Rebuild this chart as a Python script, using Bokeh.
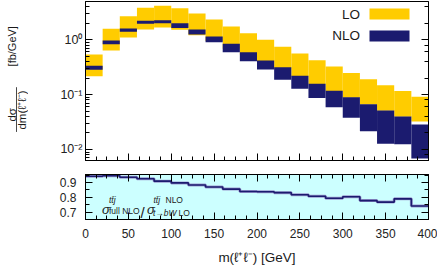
import numpy as np
from bokeh.plotting import figure
from bokeh.layouts import column, row
from bokeh.models import (Range1d, Label, BoxAnnotation, LinearAxis, LogAxis,
                          SingleIntervalTicker, LogTicker, Arrow,
                          CustomJSTickFormatter)
from bokeh.embed import file_html
from bokeh.resources import INLINE

# ---------------- data ----------------
bin_edges = [0, 20, 40, 60, 80, 100, 120, 140, 160, 180, 200,
             220, 240, 260, 280, 300, 320, 340, 360, 380, 400]
lo_upper = [0.54, 1.59, 2.69, 3.83, 4.17, 3.77, 3.02, 2.34, 1.75, 1.32,
            1.00, 0.745, 0.563, 0.425, 0.326, 0.248, 0.1905, 0.149, 0.1166, 0.0914]
lo_lower = [0.217, 0.638, 1.10, 1.54, 1.68, 1.52, 1.21, 0.95, 0.685, 0.533,
            0.386, 0.291, 0.214, 0.156, 0.116, 0.088, 0.066, 0.0508, 0.0395, 0.0324]
nlo_upper = [0.336, 0.971, 1.61, 2.22, 2.28, 2.01, 1.54, 1.15, 0.845, 0.594,
             0.419, 0.316, 0.221, 0.158, 0.1175, 0.0899, 0.067, 0.0514, 0.040, 0.0286]
nlo_lower = [0.284, 0.831, 1.40, 1.96, 2.01, 1.65, 1.25, 0.904, 0.594, 0.407,
             0.287, 0.187, 0.128, 0.0869, 0.059, 0.0378, 0.0216, 0.0127, 0.0125, 0.00686]
ratio = [0.943, 0.947, 0.936, 0.926, 0.910, 0.898, 0.884, 0.870, 0.856, 0.840,
         0.838, 0.832, 0.818, 0.808, 0.794, 0.804, 0.778, 0.768, 0.790, 0.742]

legend_labels = ["LO", "NLO"]
x_title = "m(ℓ⁺ℓ⁻) [GeV]"

# ---------------- layout constants (page pixels) ----------------
W = 437
LW = 28                 # width of the strip holding the y title
H1, H2 = 167, 100
FX0, FX1 = 85, 428      # frame left / right
T1_TOP, T1_BOT = 1, 7
T2_TOP, T2_BOT = 7, 42
XMIN, XMAX = 0, 400
YMIN1, YMAX1 = 0.0063, 5.0
YMIN2, YMAX2 = 0.65, 0.955
FONT = "Liberation Sans"
LO_COL = "#ffcc00"
NLO_COL = "#1b1b6f"
TXT = "#1a1a1a"

F1Y0, F1Y1 = T1_TOP, H1 - T1_BOT
F2Y0, F2Y1 = H1 + T2_TOP, H1 + H2 - T2_BOT


def gev(px):
    return XMIN + (XMAX - XMIN) * (px - FX0) / (FX1 - FX0)


def top_val(py):
    a, b = np.log10(YMAX1), np.log10(YMIN1)
    return 10 ** (a - (py - F1Y0) / (F1Y1 - F1Y0) * (a - b))


def bot_val(py):
    return YMAX2 - (py - F2Y0) / (F2Y1 - F2Y0) * (YMAX2 - YMIN2)


EMPTY = CustomJSTickFormatter(code="return ''")
POW10 = CustomJSTickFormatter(code="""
const e = Math.round(Math.log10(tick));
const sup = {'-': '\u207b', '0': '\u2070', '1': '\u00b9', '2': '\u00b2', '3': '\u00b3',
             '4': '\u2074', '5': '\u2075', '6': '\u2076', '7': '\u2077', '8': '\u2078',
             '9': '\u2079'};
return '10' + String(e).split('').map(c => sup[c]).join('');
""")


def style_axis(ax, labels=True, size="12px", standoff=8):
    ax.major_tick_in = 7
    ax.major_tick_out = 0
    ax.minor_tick_in = 4
    ax.minor_tick_out = 0
    ax.axis_line_color = "black"
    ax.major_tick_line_color = "black"
    ax.minor_tick_line_color = "black"
    if labels:
        ax.major_label_text_font = FONT
        ax.major_label_text_font_size = size
        ax.major_label_text_color = "#222222"
        ax.major_label_standoff = standoff
    else:
        ax.formatter = EMPTY
        ax.major_label_text_font_size = "2px"
        ax.major_label_standoff = 0


# ---------------- y-title strip ----------------
lf = figure(width=LW, height=H1, x_range=Range1d(0, LW), y_range=Range1d(H1, 0),
            output_backend="svg", toolbar_location=None,
            x_axis_location=None, y_axis_location=None,
            min_border_left=0, min_border_right=0, min_border_top=0, min_border_bottom=0)
lf.xgrid.visible = False
lf.ygrid.visible = False
lf.outline_line_color = None
rot = np.pi / 2
lf.add_layout(Label(x=11.2, y=119, text="dσ", angle=rot,
                    text_align="center", text_baseline="middle",
                    text_font=FONT, text_font_size="11.5px", text_color=TXT))
lf.add_layout(Label(x=21.5, y=114, text="dm(ℓ⁺ℓ⁻)", angle=rot,
                    text_align="center", text_baseline="middle",
                    text_font=FONT, text_font_size="11.5px", text_color=TXT))
lf.add_layout(Label(x=11.5, y=47, text="[fb/GeV]", angle=rot,
                    text_align="center", text_baseline="middle",
                    text_font=FONT, text_font_size="11px", text_color=TXT))
lf.add_layout(Arrow(end=None, x_start=16, x_end=16, y_start=90, y_end=137,
                    line_color=TXT, line_width=0.8))

# ---------------- top panel ----------------
p1 = figure(width=W - LW, height=H1, x_range=Range1d(XMIN, XMAX),
            y_range=Range1d(YMIN1, YMAX1), y_axis_type="log",
            output_backend="svg", toolbar_location=None,
            min_border_left=FX0 - LW, min_border_right=W - FX1,
            min_border_top=T1_TOP, min_border_bottom=T1_BOT)
p1.xgrid.visible = False
p1.ygrid.visible = False
p1.outline_line_color = "black"
p1.outline_line_width = 1

p1.quad(left=bin_edges[:-1], right=bin_edges[1:], bottom=lo_lower, top=lo_upper,
        fill_color=LO_COL, line_color=None)
p1.quad(left=bin_edges[:-1], right=bin_edges[1:], bottom=nlo_lower, top=nlo_upper,
        fill_color=NLO_COL, line_color=None)

p1.xaxis.ticker = SingleIntervalTicker(interval=50, num_minor_ticks=4)
style_axis(p1.xaxis[0], labels=False)
style_axis(p1.yaxis[0], labels=True, size="12.5px", standoff=3)
p1.yaxis[0].formatter = POW10
ra1 = LogAxis(ticker=LogTicker())
style_axis(ra1, labels=False)
p1.add_layout(ra1, "right")

# legend (text left of swatch)
p1.add_layout(BoxAnnotation(left=gev(369), right=gev(409), top=top_val(8),
                            bottom=top_val(19), fill_color=LO_COL, fill_alpha=1,
                            line_color=None))
p1.add_layout(BoxAnnotation(left=gev(369), right=gev(409), top=top_val(30),
                            bottom=top_val(41), fill_color=NLO_COL, fill_alpha=1,
                            line_color=None))
p1.add_layout(Label(x=gev(359.5), y=top_val(13.5), text=legend_labels[0],
                    text_align="right", text_baseline="middle",
                    text_font=FONT, text_font_size="13.5px", text_color=TXT))
p1.add_layout(Label(x=gev(359.5), y=top_val(34.5), text=legend_labels[1],
                    text_align="right", text_baseline="middle",
                    text_font=FONT, text_font_size="13.5px", text_color=TXT))

# ---------------- bottom (ratio) panel ----------------
p2 = figure(width=W, height=H2, x_range=p1.x_range,
            y_range=Range1d(YMIN2, YMAX2),
            output_backend="svg", toolbar_location=None,
            min_border_left=FX0, min_border_right=W - FX1,
            min_border_top=T2_TOP, min_border_bottom=T2_BOT,
            background_fill_color="#ccffff")
p2.xgrid.visible = False
p2.ygrid.visible = False
p2.outline_line_color = "black"
p2.outline_line_width = 1

ratio_steps = ratio + [ratio[-1]]
p2.step(x=bin_edges, y=ratio_steps, mode="after", line_color="#9c9cd0", line_width=3)
p2.step(x=bin_edges, y=ratio_steps, mode="after", line_color=NLO_COL, line_width=1.6)

p2.xaxis.ticker = SingleIntervalTicker(interval=50, num_minor_ticks=4)
style_axis(p2.xaxis[0], labels=True, size="12px", standoff=9)
p2.xaxis.axis_label = x_title
p2.xaxis.axis_label_text_font = FONT
p2.xaxis.axis_label_text_font_size = "13.5px"
p2.xaxis.axis_label_text_font_style = "normal"
p2.xaxis.axis_label_text_color = TXT
p2.xaxis.axis_label_standoff = 9

p2.yaxis.ticker = SingleIntervalTicker(interval=0.1, num_minor_ticks=2)
style_axis(p2.yaxis[0], labels=True, size="12px", standoff=9)

ta2 = LinearAxis(ticker=SingleIntervalTicker(interval=50, num_minor_ticks=4))
style_axis(ta2, labels=False)
p2.add_layout(ta2, "above")
ra2 = LinearAxis(ticker=SingleIntervalTicker(interval=0.1, num_minor_ticks=2))
style_axis(ra2, labels=False)
p2.add_layout(ra2, "right")


def txt(px, py, s, size, style="normal"):
    p2.add_layout(Label(x=gev(px), y=bot_val(py), text=s, text_align="left",
                        text_baseline="alphabetic", text_font=FONT,
                        text_font_size=size, text_font_style=style,
                        text_color="#222222"))


txt(101.5, 214, "σ", "13px", "italic")
txt(108.5, 202.5, "tt̄j", "8.5px", "italic")
txt(108.5, 215.5, "full NLO", "8.5px")
txt(140, 217, "/", "15px")
txt(146.5, 214, "σ", "13px", "italic")
txt(153, 203, "tt̄j", "8.5px", "italic")
txt(165, 203, "NLO", "8.5px")
txt(152.5, 217.5, "t→bW", "8.5px", "italic")
txt(178, 217.5, "LO", "8.5px")

layout = column(row(lf, p1), p2)
open("out.html", "w").write(file_html(layout, INLINE))
